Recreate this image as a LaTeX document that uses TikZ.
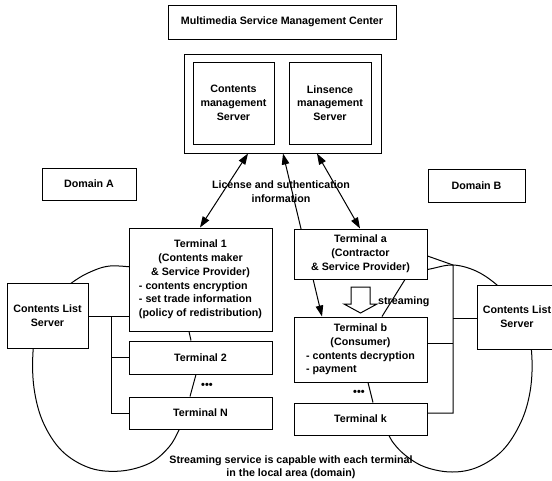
\documentclass[tikz,border=0pt]{standalone}
\usepackage{fontspec}
\setmainfont{Liberation Sans}
\usetikzlibrary{arrows.meta}
\pgfdeclarelayer{bg}
\pgfsetlayers{bg,main}
\tikzset{
  box/.style={draw, line width=1pt, fill=white, rectangle, inner sep=0pt, align=center,
    font=\bfseries\fontsize{10.7}{13.8}\selectfont},
  lnk/.style={line width=1pt},
  dbl/.style={line width=1pt, {Triangle[length=11pt,width=7.5pt]}-{Triangle[length=11pt,width=7.5pt]}},
  lbl/.style={font=\bfseries\fontsize{10.7}{13.5}\selectfont, align=center, inner sep=0pt},
  dotsnode/.style={font=\bfseries\fontsize{11}{11}\selectfont, inner sep=0pt},
}
\begin{document}
\begin{tikzpicture}[x=1pt,y=-1pt]
\useasboundingbox (0,0) rectangle (552,480);
\clip (0,0) rectangle (552,480);

% top
\node[box, minimum width=228, minimum height=34] (msmc) at (282,22) {Multimedia Service Management Center};
\node[box, minimum width=197, minimum height=99] (outer) at (282.5,103.5) {};
\node[box, minimum width=81, minimum height=82] (cms) at (233.5,103) {Contents\\management\\Server};
\node[box, minimum width=82, minimum height=82] (lms) at (330,103) {Linsence\\management\\Server};

% domains
\node[box, minimum width=94, minimum height=32] (domA) at (89,184) {Domain A};
\node[box, minimum width=97, minimum height=33] (domB) at (476.5,185.5) {Domain B};

% domain A terminals
\node[box, minimum width=143, minimum height=103] (t1) at (200.5,279.5)
  {\begin{tabular}{@{}l@{}}\multicolumn{1}{@{}c@{}}{Terminal 1}\\
   \multicolumn{1}{@{}c@{}}{(Contents maker}\\
   \multicolumn{1}{@{}c@{}}{\& Service Provider)}\\
   - contents encryption\\
   - set trade information\\
   (policy of redistribution)\end{tabular}};
\node[box, minimum width=143, minimum height=33] (t2) at (200.5,357.5) {Terminal 2};
\node[box, minimum width=143, minimum height=32] (tN) at (200.5,413) {Terminal N};
\node[box, minimum width=81, minimum height=65] (clsA) at (47.5,315.5) {Contents List\\Server};

% domain B terminals
\node[box, minimum width=133, minimum height=50] (ta) at (360.5,254) {Terminal a\\(Contractor\\\& Service Provider)};
\node[box, minimum width=133, minimum height=65] (tb) at (360.5,349.5)
  {\begin{tabular}{@{}l@{}}\multicolumn{1}{@{}c@{}}{Terminal b}\\
   \multicolumn{1}{@{}c@{}}{(Consumer)}\\
   - contents decryption\\
   - payment\end{tabular}};
\node[box, minimum width=133, minimum height=32] (tk) at (360.5,419) {Terminal k};
\node[box, minimum width=80, minimum height=64] (clsB) at (517,317) {Contents List\\Server};

% background: domain curves and the long arrow
\begin{pgfonlayer}{bg}
\draw[lnk] plot[smooth, tension=0.6] coordinates {(140,268) (110,266) (88,273) (70,284) (50,300) (38,325) (33,352) (34,388) (43,422) (62,451) (90,468) (121,471) (150,463) (169,447) (179,430) (183,420)};
\draw[lnk] plot[smooth, tension=0.6] coordinates {(415,272) (430,269) (453,265) (476,271) (497,285) (516,305) (528,330) (532,360) (530,392) (521,422) (503,450) (478,467) (452,472) (425,467) (405,455) (392,441) (386,428)};
\draw[dbl] (outer.south -| 283,0) -- (tb.north -| 322,0);
\end{pgfonlayer}

% license arrows
\draw[dbl] (outer.south -| 248,0) -- (t1.north -| 200,0);
\draw[dbl] (outer.south -| 317,0) -- (ta.north -| 360,0);
\node[lbl] (lic) at (281,191.5) {License and suthentication\\information};

% bus A
\coordinate (busA) at (111,316);
\draw[lnk] (clsA.east |- busA) -- (t1.west |- busA);
\draw[lnk] (busA) |- (tN.west);
\draw[lnk] (busA |- t2.west) -- (t2.west);

% bus B
\coordinate (busB) at (453,265);
\draw[lnk] (ta.east |- 0,256) -- (busB) -- (busB |- 0,413) -- (tk.east |- 0,413);
\draw[lnk] (busB |- 0,318) -- (clsB.west |- 0,318);
\draw[lnk] (busB |- 0,343) -- (tb.east |- 0,343);

% terminal links
\draw[lnk] (t1.south -| 189,0) -- (t2.north -| 191,0);
\draw[lnk] (t2.south -| 196,0) -- (tN.north -| 190,0);
\node[dotsnode] (dA) at (207,386) {•••};
\draw[lnk] (ta.south -| 405,0) -- (tb.north -| 382,0);
\draw[lnk] (tb.south -| 368,0) -- (tk.north -| 373,0);
\node[dotsnode] (dB) at (359,393) {•••};

% streaming arrow
\draw[lnk, fill=white] (351,287) -- (370,287) -- (370,304) -- (377,304) -- (360.5,313) -- (344,304) -- (351,304) -- cycle;
\node[lbl, anchor=west] (str) at (378,302) {streaming};

% footer
\node[lbl] (foot) at (291,467) {Streaming service is capable with each terminal\\in the local area (domain)};
\end{tikzpicture}
\end{document}
